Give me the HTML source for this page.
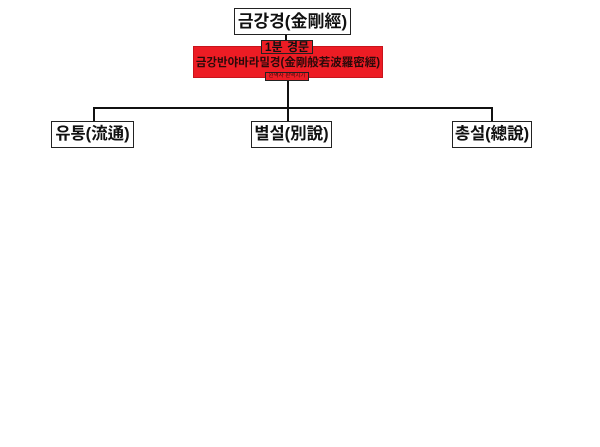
<!DOCTYPE html>
<html lang="ko">
<head>
<meta charset="utf-8">
<style>
html,body{margin:0;padding:0;background:#fff;width:600px;height:447px;overflow:hidden}
#c{position:relative;width:600px;height:447px;font-family:"Liberation Sans","Noto Sans CJK KR",sans-serif;font-weight:bold;color:#111}
.b{position:absolute;box-sizing:border-box;border:1px solid #222;background:#fff;display:flex;align-items:center;justify-content:center;white-space:nowrap;line-height:1}
.l{position:absolute;background:#111}
.r{background:#ed1c24}
</style>
</head>
<body>
<div id="c">
<div class="l" style="left:285px;top:34px;width:2px;height:8px"></div>
<div class="l" style="left:287px;top:78px;width:2px;height:43px"></div>
<div class="l" style="left:93px;top:107px;width:400px;height:2px"></div>
<div class="l" style="left:93px;top:107px;width:2px;height:14px"></div>
<div class="l" style="left:491px;top:107px;width:2px;height:14px"></div>

<div class="b" style="left:234px;top:8px;width:117px;height:27px;font-size:17px">금강경(金剛經)</div>

<div class="b r" style="left:193px;top:46px;width:190px;height:32px;font-size:11.5px;padding-top:4px;border-color:#c8141c;font-weight:bold;color:#2a0a0a">금강반야바라밀경(金剛般若波羅密經)</div>
<div class="b r" style="left:261px;top:40px;width:52px;height:14px;font-size:12px;word-spacing:1px">1분 경문</div>
<div class="b r" style="left:265px;top:72px;width:44px;height:9px;font-size:5.5px;font-weight:normal;color:#3a0a0a;overflow:hidden">완역자 판역시기</div>

<div class="b" style="left:51px;top:121px;width:83px;height:27px;font-size:16.5px">유통(流通)</div>
<div class="b" style="left:251px;top:121px;width:81px;height:27px;font-size:16.5px">별설(別說)</div>
<div class="b" style="left:452px;top:121px;width:80px;height:27px;font-size:16.5px">총설(總說)</div>
</div>
</body>
</html>
